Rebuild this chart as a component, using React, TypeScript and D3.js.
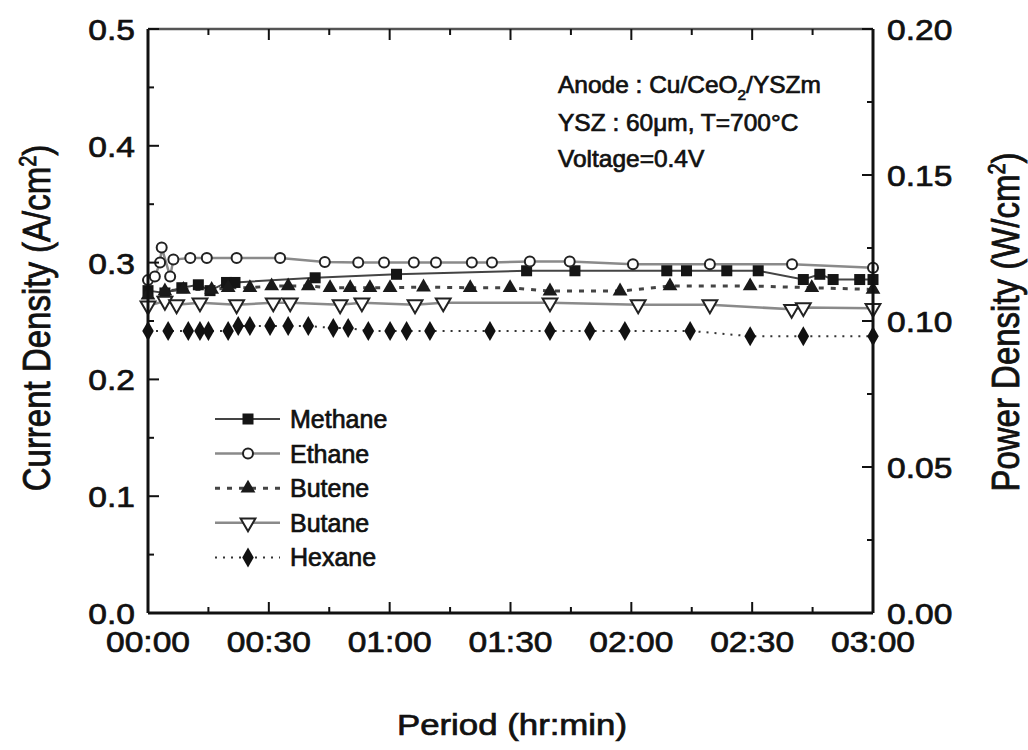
import React from 'react';
import * as d3 from 'd3';

// ---- data (time in minutes, current density A/cm2) ----
const methane: [number, number][] = [
  [0, 0.276], [4.2, 0.274], [8.4, 0.2785], [12.5, 0.281], [15.4, 0.276], [19.5, 0.283], [21.6, 0.283],
  [41.5, 0.287], [61.7, 0.29], [94, 0.293], [106, 0.293], [128.8, 0.293], [133.7, 0.293], [143.7, 0.293],
  [151.5, 0.293], [162.7, 0.2855], [166.8, 0.29], [170.1, 0.2855], [176.7, 0.2855], [180, 0.2855],
];
const ethane: [number, number][] = [
  [0, 0.285], [1.7, 0.288], [3.0, 0.3], [3.4, 0.313], [5.5, 0.288], [6.3, 0.3026], [10.5, 0.304],
  [14.6, 0.304], [22, 0.304], [32.8, 0.304], [43.9, 0.3005], [52.2, 0.3], [58.6, 0.3], [66, 0.3],
  [71.5, 0.3], [80.4, 0.3], [85.4, 0.3], [94.8, 0.301], [104.7, 0.301], [120.4, 0.2985], [139.5, 0.2985],
  [159.9, 0.2985], [180, 0.2955],
];
const butene: [number, number][] = [
  [0, 0.272], [4.2, 0.2756], [8.8, 0.277], [15.8, 0.277], [19.9, 0.2785], [25.3, 0.2785], [30.7, 0.28],
  [34.8, 0.28], [39.8, 0.28], [45.2, 0.2785], [50.2, 0.2785], [55.1, 0.2785], [60.1, 0.2785], [68.4, 0.279],
  [80, 0.2785], [89.9, 0.2785], [99.8, 0.2756], [117.2, 0.2756], [129.6, 0.28], [149.5, 0.28],
  [164.8, 0.2785], [180, 0.277],
];
const butane: [number, number][] = [
  [0, 0.263], [4.2, 0.267], [7.1, 0.264], [12.9, 0.2656], [22, 0.264], [31.1, 0.2656], [35.3, 0.2656],
  [47.7, 0.264], [53.1, 0.2656], [66.3, 0.264], [73.3, 0.2656], [99.8, 0.2656], [121.7, 0.264],
  [139.5, 0.264], [159.8, 0.26], [162.7, 0.2616], [180, 0.261],
];
const hexane: [number, number][] = [
  [0, 0.2415], [5, 0.2415], [10, 0.2415], [12.9, 0.2415], [15, 0.2415], [19.9, 0.2415], [22.4, 0.2457],
  [25.3, 0.2457], [30.3, 0.2457], [34.8, 0.2457], [39.8, 0.2457], [46, 0.244], [49.7, 0.244], [54.7, 0.2415],
  [60.1, 0.2415], [64.2, 0.2415], [70, 0.2415], [84.9, 0.2415], [99.8, 0.2415], [109.7, 0.2415],
  [118.4, 0.2415], [134.6, 0.2415], [149.5, 0.237], [162.7, 0.237], [180, 0.237],
];

const seriesNames = ['Methane', 'Ethane', 'Butene', 'Butane', 'Hexane'];
const seriesData = [methane, ethane, butene, butane, hexane];

const xTickMinutes = [0, 30, 60, 90, 120, 150, 180];
const xTickLabels = ['00:00', '00:30', '01:00', '01:30', '02:00', '02:30', '03:00'];
const xMinorMinutes = [15, 45, 75, 105, 135, 165];
const leftTicks = [0, 0.1, 0.2, 0.3, 0.4, 0.5];
const leftTickLabels = ['0.0', '0.1', '0.2', '0.3', '0.4', '0.5'];
const leftMinor = [0.05, 0.15, 0.25, 0.35, 0.45];
const rightTicks = [0, 0.05, 0.1, 0.15, 0.2];
const rightTickLabels = ['0.00', '0.05', '0.10', '0.15', '0.20'];
const rightMinor = [0.025, 0.075, 0.125, 0.175];

// ---- styles ----
const styles = [
  { stroke: '#444', width: 2, dash: '', marker: 'square' },
  { stroke: '#8a8a8a', width: 2.5, dash: '', marker: 'circle' },
  { stroke: '#444', width: 3, dash: '5,7', marker: 'tri' },
  { stroke: '#8a8a8a', width: 2.5, dash: '', marker: 'tridown' },
  { stroke: '#333', width: 2, dash: '2,6', marker: 'diamond' },
];

const FONT = "'Liberation Sans', Arial, Helvetica, sans-serif";

function T(props: any) {
  const { x, y, size, anchor = 'start', sx = 1, sy = 1, rot = 0, children } = props;
  return (
    <text
      transform={`translate(${x},${y}) rotate(${rot}) scale(${sx},${sy})`}
      fontFamily={FONT}
      fontSize={size}
      textAnchor={anchor}
      fill="#111"
      stroke="#111"
      strokeWidth={0.7}
    >
      {children}
    </text>
  );
}

const triPath = d3.symbol(d3.symbolTriangle, 95)() as string;
const diaPath = d3.symbol(d3.symbolDiamond, 115)() as string;

function Marker({ type, cx, cy }: { type: string; cx: number; cy: number }) {
  switch (type) {
    case 'square':
      return <rect x={cx - 5.5} y={cy - 5.5} width={11} height={11} fill="#151515" />;
    case 'circle':
      return <circle cx={cx} cy={cy} r={5} fill="#fff" stroke="#222" strokeWidth={2} />;
    case 'tri':
      return <path d={triPath} transform={`translate(${cx},${cy})`} fill="#1a1a1a" />;
    case 'tridown':
      return (
        <path d={triPath} transform={`translate(${cx},${cy}) rotate(180)`} fill="#fff" stroke="#222" strokeWidth={2} />
      );
    default:
      return <path d={diaPath} transform={`translate(${cx},${cy})`} fill="#111" />;
  }
}

export default function App() {
  const W = 1028, H = 750;
  const L = 148, R = 873, TOP = 29, B = 613;
  const x = d3.scaleLinear().domain([0, 180]).range([L, R]);
  const y = d3.scaleLinear().domain([0, 0.5]).range([B, TOP]);
  const y2 = d3.scaleLinear().domain([0, 0.2]).range([B, TOP]);
  const line = d3.line<[number, number]>().x((d) => x(d[0])).y((d) => y(d[1]));

  const MAJ = 11, MIN = 6;
  const tickSize = 30, tickSx = 1.12;

  return (
    <svg width={W} height={H} style={{ position: 'absolute', left: 0, top: 0, background: '#fff' }}>
      <rect x={0} y={0} width={W} height={H} fill="#fff" />

      {/* series lines */}
      {seriesData.map((d, i) => (
        <path
          key={'l' + i}
          d={line(d) as string}
          fill="none"
          stroke={styles[i].stroke}
          strokeWidth={styles[i].width}
          strokeDasharray={styles[i].dash || undefined}
        />
      ))}
      {/* markers */}
      {seriesData.map((d, i) => (
        <g key={'m' + i}>
          {d.map((p, j) => (
            <Marker key={j} type={styles[i].marker} cx={x(p[0])} cy={y(p[1])} />
          ))}
        </g>
      ))}

      {/* frame */}
      <line x1={L} x2={R} y1={TOP} y2={TOP} stroke="#555" strokeWidth={2.5} />
      <line x1={L} x2={L} y1={TOP} y2={B} stroke="#111" strokeWidth={3} />
      <line x1={R} x2={R} y1={TOP} y2={B} stroke="#111" strokeWidth={3} />
      <line x1={L} x2={R} y1={B} y2={B} stroke="#111" strokeWidth={3} />

      {/* x ticks (bottom & top) */}
      {xTickMinutes.map((m) => (
        <g key={'xt' + m}>
          <line x1={x(m)} x2={x(m)} y1={B} y2={B - MAJ} stroke="#111" strokeWidth={2} />
          <line x1={x(m)} x2={x(m)} y1={TOP} y2={TOP + MAJ} stroke="#111" strokeWidth={2} />
        </g>
      ))}
      {xMinorMinutes.map((m) => (
        <g key={'xm' + m}>
          <line x1={x(m)} x2={x(m)} y1={B} y2={B - MIN} stroke="#111" strokeWidth={2} />
          <line x1={x(m)} x2={x(m)} y1={TOP} y2={TOP + MIN} stroke="#111" strokeWidth={2} />
        </g>
      ))}
      {xTickMinutes.map((m, i) => (
        <T key={'xl' + m} x={x(m)} y={652} size={tickSize} sx={tickSx} anchor="middle">
          {xTickLabels[i]}
        </T>
      ))}

      {/* left axis */}
      {leftTicks.map((v) => (
        <line key={'lt' + v} x1={L} x2={L + MAJ} y1={y(v)} y2={y(v)} stroke="#111" strokeWidth={2} />
      ))}
      {leftMinor.map((v) => (
        <line key={'lm' + v} x1={L} x2={L + MIN} y1={y(v)} y2={y(v)} stroke="#111" strokeWidth={2} />
      ))}
      {leftTicks.map((v, i) => (
        <T key={'ll' + v} x={135} y={y(v) + 11} size={tickSize} sx={tickSx} anchor="end">
          {leftTickLabels[i]}
        </T>
      ))}

      {/* right axis */}
      {rightTicks.map((v) => (
        <line key={'rt' + v} x1={R} x2={R - MAJ} y1={y2(v)} y2={y2(v)} stroke="#111" strokeWidth={2} />
      ))}
      {rightMinor.map((v) => (
        <line key={'rm' + v} x1={R} x2={R - MIN} y1={y2(v)} y2={y2(v)} stroke="#111" strokeWidth={2} />
      ))}
      {rightTicks.map((v, i) => (
        <T key={'rl' + v} x={887} y={y2(v) + 11} size={tickSize} sx={tickSx} anchor="start">
          {rightTickLabels[i]}
        </T>
      ))}

      {/* axis titles */}
      <T x={512} y={735} size={29} sx={1.2} anchor="middle">Period (hr:min)</T>
      <T x={50} y={318} size={33} rot={-90} sy={1.2} anchor="middle">
        Current Density (A/cm<tspan dy={-12} fontSize={20}>2</tspan><tspan dy={12}>)</tspan>
      </T>
      <T x={1019} y={322} size={33} rot={-90} sy={1.2} anchor="middle">
        Power Density (W/cm<tspan dy={-12} fontSize={20}>2</tspan><tspan dy={12}>)</tspan>
      </T>

      {/* annotation */}
      <T x={558} y={93} size={24} sx={1.02}>
        Anode : Cu/CeO<tspan dy={7} fontSize={15}>2</tspan><tspan dy={-7}>/YSZm</tspan>
      </T>
      <T x={558} y={131} size={24} sx={1.02}>YSZ : 60μm, T=700°C</T>
      <T x={558} y={167} size={24} sx={1.02}>Voltage=0.4V</T>

      {/* legend */}
      {seriesNames.map((name, i) => {
        const ly = 419 + i * 34.6;
        return (
          <g key={'lg' + i}>
            <line
              x1={215}
              x2={280}
              y1={ly}
              y2={ly}
              stroke={styles[i].stroke}
              strokeWidth={styles[i].width}
              strokeDasharray={styles[i].dash || undefined}
            />
            <Marker type={styles[i].marker} cx={248} cy={ly} />
            <T x={290} y={ly + 9} size={25}>{name}</T>
          </g>
        );
      })}
    </svg>
  );
}
